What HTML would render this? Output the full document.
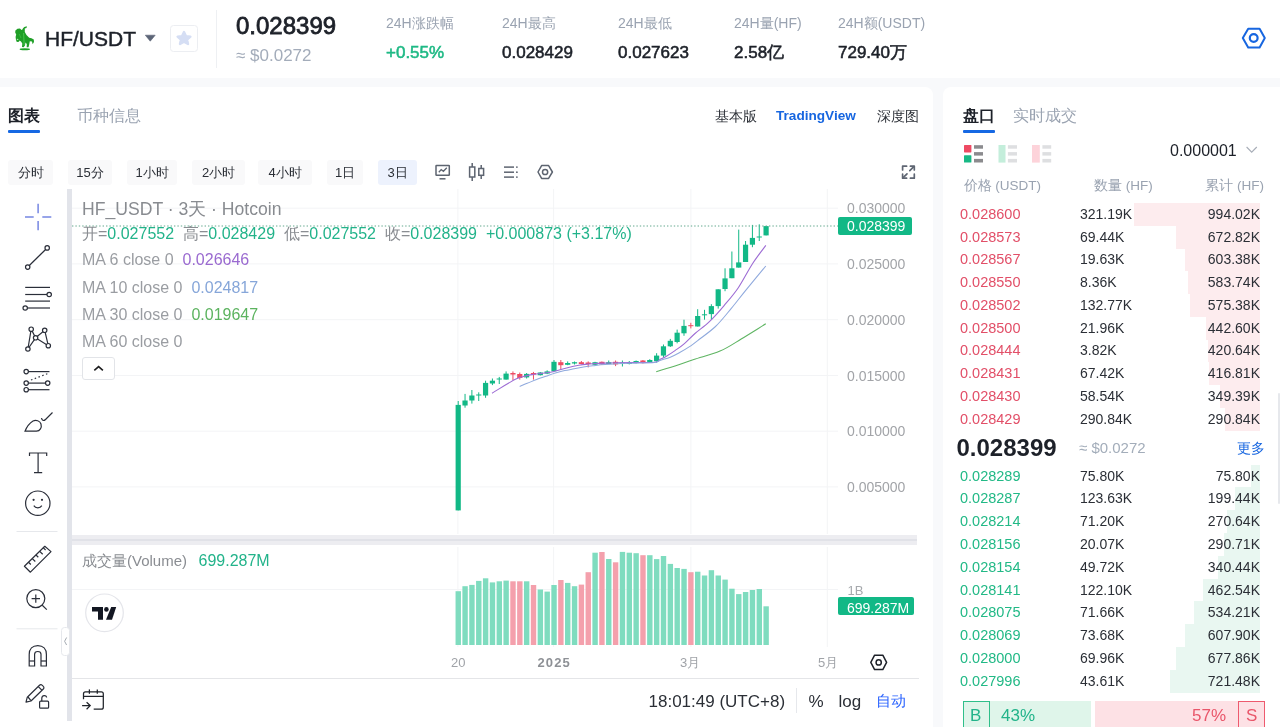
<!DOCTYPE html>
<html><head><meta charset="utf-8">
<style>
*{box-sizing:border-box;margin:0;padding:0}
html,body{width:1280px;height:727px;overflow:hidden;background:#f8f9fb;font-family:"Liberation Sans",sans-serif;color:#1d2129}
.a{position:absolute;white-space:nowrap;line-height:1}
#hdr{position:absolute;left:0;top:0;width:1280px;height:78px;background:#fff}
#lp{position:absolute;left:0;top:87px;width:933px;height:640px;background:#fff;border-radius:0 8px 0 0}
#rp{position:absolute;left:943px;top:87px;width:337px;height:640px;background:#fff;border-radius:8px 0 0 0}
.lbl{font-size:14px;color:#9aa3b1}
.val{font-size:17px;color:#1d2129;-webkit-text-stroke:0.55px currentColor}
.tb{position:absolute;top:160px;height:25px;background:#f9f9fa;border-radius:3px;font-size:13px;color:#2b2f36;line-height:25px;text-align:center}
.obr{position:absolute;left:943px;width:337px;height:23px;font-size:14px;line-height:23px}
.obr span{position:absolute;white-space:nowrap}
.op{left:17px;font-size:14.5px}
.op.r{color:#e24f68}
.op.g{color:#22b986}
.oq{left:137px;color:#2b2f36;font-size:14px}
.ot{right:20px;color:#2b2f36;font-size:14px}
.dbar{position:absolute}
svg{position:absolute;left:0;top:0}
#root{position:absolute;left:0;top:0;width:1280px;height:727px;overflow:hidden;will-change:transform}
</style></head><body><div id="root">
<div id="hdr"></div>
<div id="lp"></div>
<div id="rp"></div>

<!-- header -->
<svg width="1280" height="78" style="left:0;top:0">
  <g fill="#1f9f27">
    <polygon points="17.5,28.8 20,28.6 21.5,30 22.4,29.5 23,28.2 24.3,27 26.9,26.3 26.5,27.9 24.8,28.6 24.8,32 26.5,35 29.2,37.8 31.5,38.2 33.8,39.5 34,42 32.6,44.2 32,41.5 29.8,41.3 29.2,44.5 28.5,47.3 26.7,47.3 26.8,44 25.5,42.5 25,45.5 23.6,47.3 22,47 22.3,43.5 21,41.5 19.5,40.5 19,41.8 16.8,42 16,40 15.6,37 16.2,34.5 15.2,32.5 15.4,30.5"/>
    <ellipse cx="24.8" cy="49.2" rx="5.2" ry="1.05"/>
  </g>
  <path d="M23.6,33 L24.2,45.5" stroke="#56d35a" stroke-width="0.9" fill="none" opacity="0.8"/>
  <path d="M19.2,34 L21,38" stroke="#48c94e" stroke-width="0.8" fill="none" opacity="0.7"/>
  <ellipse cx="17.6" cy="39.3" rx="0.9" ry="0.6" fill="#b8f0b8"/>
  <path d="M145.3,35.2 L155.2,35.2 L150.25,41.2 Z" fill="#5c6577" stroke="#5c6577" stroke-width="0.6" stroke-linejoin="round"/>
  <rect x="170.5" y="25.5" width="27" height="26" rx="3" fill="#fff" stroke="#eceef2"/>
  <path d="M184,32 L186,36.2 L190.4,36.7 L187.1,39.7 L188,44 L184,41.8 L180,44 L180.9,39.7 L177.6,36.7 L182,36.2 Z" fill="#d5def4" stroke="#d5def4" stroke-width="2.4" stroke-linejoin="round"/>
  <line x1="216.5" y1="10" x2="216.5" y2="68" stroke="#eef0f3"/>
  <g fill="none" stroke="#1766e0" stroke-width="2">
    <path d="M1242.8,38 L1248.2,28.8 L1259.6,28.8 L1264.8,38 L1259.6,47.4 L1248.2,47.4 Z" stroke-linejoin="round"/>
    <circle cx="1253.7" cy="38" r="3.9" stroke-width="2.2"/>
  </g>
</svg>
<div class="a" style="left:45px;top:27.6px;font-size:21px;color:#1d2129;-webkit-text-stroke:0.45px #1d2129">HF/USDT</div>
<div class="a" style="left:236px;top:13.5px;font-size:24px;color:#1d2129;-webkit-text-stroke:0.8px #1d2129">0.028399</div>
<div class="a" style="left:236px;top:46.5px;font-size:17px;color:#a3acba">≈ $0.0272</div>
<div class="a lbl" style="left:386px;top:16px">24H涨跌幅</div>
<div class="a val" style="left:386px;top:44px;color:#1fb985">+0.55%</div>
<div class="a lbl" style="left:502px;top:16px">24H最高</div>
<div class="a val" style="left:502px;top:44px">0.028429</div>
<div class="a lbl" style="left:618px;top:16px">24H最低</div>
<div class="a val" style="left:618px;top:44px">0.027623</div>
<div class="a lbl" style="left:734px;top:16px">24H量(HF)</div>
<div class="a val" style="left:734px;top:44px">2.58亿</div>
<div class="a lbl" style="left:838px;top:16px">24H额(USDT)</div>
<div class="a val" style="left:838px;top:44px">729.40万</div>

<!-- left panel tabs -->
<div class="a" style="left:8px;top:107.5px;font-size:16px;color:#1d2129;font-weight:bold">图表</div>
<div style="position:absolute;left:8px;top:130px;width:32px;height:3px;background:#1668e3;border-radius:1px"></div>
<div class="a" style="left:77px;top:107.5px;font-size:16px;color:#9aa3b1">币种信息</div>
<div class="a" style="left:715px;top:108.5px;font-size:14px;color:#2b2f36">基本版</div>
<div class="a" style="left:776px;top:109px;font-size:13.6px;font-weight:bold;color:#1766e0">TradingView</div>
<div class="a" style="left:877px;top:108.5px;font-size:14px;color:#2b2f36">深度图</div>

<!-- toolbar -->
<div class="tb" style="left:8px;width:45px">分时</div>
<div class="tb" style="left:68px;width:44px">15分</div>
<div class="tb" style="left:127px;width:50px">1小时</div>
<div class="tb" style="left:192px;width:53px">2小时</div>
<div class="tb" style="left:258px;width:54px">4小时</div>
<div class="tb" style="left:327px;width:36px">1日</div>
<div class="tb" style="left:378px;width:39px;background:#edf2fd">3日</div>

<svg width="1280" height="200" style="left:0;top:0">
 <g fill="none" stroke="#5d6470" stroke-width="1.5">
  <rect x="436" y="165.6" width="13.3" height="9.6" rx="0.5"/>
  <polyline points="438.8,172.3 441.2,169.6 443.4,171.3 446.8,167.8" stroke-width="1.3"/>
  <line x1="439.5" y1="178.8" x2="445.5" y2="178.8"/>
  <rect x="469.6" y="167" width="5.2" height="10"/>
  <line x1="472.2" y1="163" x2="472.2" y2="167"/><line x1="472.2" y1="177" x2="472.2" y2="181"/>
  <rect x="478.8" y="168.5" width="4.8" height="6.8"/>
  <line x1="481.2" y1="165" x2="481.2" y2="168.5"/><line x1="481.2" y1="175.3" x2="481.2" y2="179"/>
  <line x1="504" y1="167.1" x2="514" y2="167.1"/><line x1="504" y1="172.2" x2="514" y2="172.2"/><line x1="504" y1="177.1" x2="514" y2="177.1"/>
  <path d="M538,172 L541.6,165.6 L548.6,165.6 L552.4,172 L548.6,178.4 L541.6,178.4 Z" stroke-linejoin="round"/>
  <circle cx="545.1" cy="172" r="2.6"/>
  <g stroke-width="1.7" stroke="#5f6673" stroke-linecap="round" stroke-linejoin="round">
   <polyline points="902.6,170 902.6,166.2 906.6,166.2"/>
   <polyline points="910.4,166.2 914.3,166.2 914.3,170"/>
   <line x1="909.8" y1="170.6" x2="913.8" y2="166.7"/>
   <polyline points="902.6,174.2 902.6,178.2 906.6,178.2"/>
   <line x1="903.1" y1="177.7" x2="907" y2="173.8"/>
   <polyline points="914.3,174.2 914.3,178.2 910.4,178.2"/>
  </g>
 </g>
 <g fill="#5d6470"><circle cx="516.9" cy="167.1" r="0.9"/><circle cx="516.9" cy="172.2" r="0.9"/><circle cx="516.9" cy="177.1" r="0.9"/></g>
</svg>


<!-- chart -->
<svg width="1280" height="727">
<line x1="72" y1="208.2" x2="838" y2="208.2" stroke="#f3f4f6" stroke-width="1"/>
<line x1="72" y1="263.9" x2="838" y2="263.9" stroke="#f3f4f6" stroke-width="1"/>
<line x1="72" y1="319.7" x2="838" y2="319.7" stroke="#f3f4f6" stroke-width="1"/>
<line x1="72" y1="375.5" x2="838" y2="375.5" stroke="#f3f4f6" stroke-width="1"/>
<line x1="72" y1="431.2" x2="838" y2="431.2" stroke="#f3f4f6" stroke-width="1"/>
<line x1="72" y1="486.9" x2="838" y2="486.9" stroke="#f3f4f6" stroke-width="1"/>
<line x1="457.9" y1="189" x2="457.9" y2="534" stroke="#f3f4f6" stroke-width="1"/>
<line x1="457.9" y1="547" x2="457.9" y2="647" stroke="#f3f4f6" stroke-width="1"/>
<line x1="553.6" y1="189" x2="553.6" y2="534" stroke="#f3f4f6" stroke-width="1"/>
<line x1="553.6" y1="547" x2="553.6" y2="647" stroke="#f3f4f6" stroke-width="1"/>
<line x1="690.9" y1="189" x2="690.9" y2="534" stroke="#f3f4f6" stroke-width="1"/>
<line x1="690.9" y1="547" x2="690.9" y2="647" stroke="#f3f4f6" stroke-width="1"/>
<line x1="827.3" y1="189" x2="827.3" y2="534" stroke="#f3f4f6" stroke-width="1"/>
<line x1="827.3" y1="547" x2="827.3" y2="647" stroke="#f3f4f6" stroke-width="1"/>
<line x1="72" y1="589.5" x2="838" y2="589.5" stroke="#f3f4f6" stroke-width="1"/>
<rect x="455.55" y="591.2" width="5.4" height="53.8" fill="#7fdcbf"/>
<rect x="462.39" y="586.2" width="5.4" height="58.8" fill="#7fdcbf"/>
<rect x="469.23" y="584.9" width="5.4" height="60.1" fill="#7fdcbf"/>
<rect x="476.08" y="580.9" width="5.4" height="64.1" fill="#7fdcbf"/>
<rect x="482.92" y="578.3" width="5.4" height="66.7" fill="#7fdcbf"/>
<rect x="489.76" y="582.4" width="5.4" height="62.6" fill="#7fdcbf"/>
<rect x="496.60" y="581.3" width="5.4" height="63.7" fill="#7fdcbf"/>
<rect x="503.44" y="580.6" width="5.4" height="64.4" fill="#7fdcbf"/>
<rect x="510.29" y="581.3" width="5.4" height="63.7" fill="#f4a0ac"/>
<rect x="517.13" y="581.3" width="5.4" height="63.7" fill="#f4a0ac"/>
<rect x="523.97" y="581.3" width="5.4" height="63.7" fill="#7fdcbf"/>
<rect x="530.81" y="585.0" width="5.4" height="60.0" fill="#f4a0ac"/>
<rect x="537.65" y="589.5" width="5.4" height="55.5" fill="#7fdcbf"/>
<rect x="544.50" y="591.6" width="5.4" height="53.4" fill="#7fdcbf"/>
<rect x="551.34" y="585.0" width="5.4" height="60.0" fill="#7fdcbf"/>
<rect x="558.18" y="580.0" width="5.4" height="65.0" fill="#f4a0ac"/>
<rect x="565.02" y="582.9" width="5.4" height="62.1" fill="#7fdcbf"/>
<rect x="571.86" y="586.2" width="5.4" height="58.8" fill="#7fdcbf"/>
<rect x="578.71" y="584.6" width="5.4" height="60.4" fill="#f4a0ac"/>
<rect x="585.55" y="572.2" width="5.4" height="72.8" fill="#f4a0ac"/>
<rect x="592.39" y="552.7" width="5.4" height="92.3" fill="#7fdcbf"/>
<rect x="599.23" y="552.0" width="5.4" height="93.0" fill="#f4a0ac"/>
<rect x="606.07" y="559.0" width="5.4" height="86.0" fill="#7fdcbf"/>
<rect x="612.92" y="562.3" width="5.4" height="82.7" fill="#f4a0ac"/>
<rect x="619.76" y="551.9" width="5.4" height="93.1" fill="#7fdcbf"/>
<rect x="626.60" y="552.7" width="5.4" height="92.3" fill="#7fdcbf"/>
<rect x="633.44" y="553.2" width="5.4" height="91.8" fill="#7fdcbf"/>
<rect x="640.28" y="555.2" width="5.4" height="89.8" fill="#f4a0ac"/>
<rect x="647.13" y="555.2" width="5.4" height="89.8" fill="#7fdcbf"/>
<rect x="653.97" y="559.1" width="5.4" height="85.9" fill="#7fdcbf"/>
<rect x="660.81" y="556.0" width="5.4" height="89.0" fill="#7fdcbf"/>
<rect x="667.65" y="563.9" width="5.4" height="81.1" fill="#7fdcbf"/>
<rect x="674.49" y="568.0" width="5.4" height="77.0" fill="#7fdcbf"/>
<rect x="681.34" y="568.9" width="5.4" height="76.1" fill="#7fdcbf"/>
<rect x="688.18" y="572.2" width="5.4" height="72.8" fill="#f4a0ac"/>
<rect x="695.02" y="571.7" width="5.4" height="73.3" fill="#7fdcbf"/>
<rect x="701.86" y="575.5" width="5.4" height="69.5" fill="#7fdcbf"/>
<rect x="708.70" y="570.2" width="5.4" height="74.8" fill="#7fdcbf"/>
<rect x="715.55" y="575.5" width="5.4" height="69.5" fill="#7fdcbf"/>
<rect x="722.39" y="579.6" width="5.4" height="65.4" fill="#7fdcbf"/>
<rect x="729.23" y="588.7" width="5.4" height="56.3" fill="#7fdcbf"/>
<rect x="736.07" y="594.1" width="5.4" height="50.9" fill="#7fdcbf"/>
<rect x="742.91" y="592.0" width="5.4" height="53.0" fill="#7fdcbf"/>
<rect x="749.76" y="590.0" width="5.4" height="55.0" fill="#7fdcbf"/>
<rect x="756.60" y="589.0" width="5.4" height="56.0" fill="#7fdcbf"/>
<rect x="763.44" y="606.3" width="5.4" height="38.7" fill="#7fdcbf"/>
<rect x="457.70" y="401.0" width="1" height="109.4" fill="#12b886"/>
<rect x="455.60" y="404.9" width="5.2" height="105.5" fill="#12b886"/>
<rect x="464.54" y="393.9" width="1" height="13.8" fill="#12b886"/>
<rect x="462.44" y="400.5" width="5.2" height="5.0" fill="#12b886"/>
<rect x="471.38" y="390.0" width="1" height="13.6" fill="#12b886"/>
<rect x="469.28" y="395.5" width="5.2" height="5.0" fill="#12b886"/>
<rect x="478.23" y="392.3" width="1" height="8.7" fill="#12b886"/>
<rect x="476.13" y="394.5" width="5.2" height="1.0" fill="#12b886"/>
<rect x="485.07" y="380.7" width="1" height="17.1" fill="#12b886"/>
<rect x="482.97" y="382.9" width="5.2" height="12.6" fill="#12b886"/>
<rect x="491.91" y="378.5" width="1" height="6.6" fill="#12b886"/>
<rect x="489.81" y="380.7" width="5.2" height="2.8" fill="#12b886"/>
<rect x="498.75" y="376.9" width="1" height="7.1" fill="#12b886"/>
<rect x="496.65" y="378.5" width="5.2" height="1.0" fill="#12b886"/>
<rect x="505.59" y="371.4" width="1" height="8.2" fill="#12b886"/>
<rect x="503.49" y="373.6" width="5.2" height="6.0" fill="#12b886"/>
<rect x="512.44" y="371.4" width="1" height="8.6" fill="#ee4b63"/>
<rect x="510.34" y="373.0" width="5.2" height="1.5" fill="#ee4b63"/>
<rect x="519.28" y="372.5" width="1" height="7.1" fill="#ee4b63"/>
<rect x="517.18" y="374.0" width="5.2" height="4.0" fill="#ee4b63"/>
<rect x="526.12" y="373.0" width="1" height="5.5" fill="#12b886"/>
<rect x="524.02" y="373.9" width="5.2" height="3.5" fill="#12b886"/>
<rect x="532.96" y="371.9" width="1" height="7.7" fill="#ee4b63"/>
<rect x="530.86" y="373.0" width="5.2" height="1.6" fill="#ee4b63"/>
<rect x="539.80" y="372.0" width="1" height="3.5" fill="#12b886"/>
<rect x="537.70" y="372.5" width="5.2" height="2.7" fill="#12b886"/>
<rect x="546.65" y="370.3" width="1" height="3.8" fill="#12b886"/>
<rect x="544.55" y="371.4" width="5.2" height="2.2" fill="#12b886"/>
<rect x="553.49" y="360.0" width="1" height="11.3" fill="#12b886"/>
<rect x="551.39" y="361.8" width="5.2" height="9.5" fill="#12b886"/>
<rect x="560.33" y="360.0" width="1" height="9.5" fill="#ee4b63"/>
<rect x="558.23" y="362.2" width="5.2" height="3.0" fill="#ee4b63"/>
<rect x="567.17" y="361.4" width="1" height="3.8" fill="#12b886"/>
<rect x="565.07" y="363.0" width="5.2" height="1.8" fill="#12b886"/>
<rect x="574.01" y="361.5" width="1" height="3.0" fill="#12b886"/>
<rect x="571.91" y="362.2" width="5.2" height="1.3" fill="#12b886"/>
<rect x="580.86" y="361.0" width="1" height="3.4" fill="#ee4b63"/>
<rect x="578.76" y="362.2" width="5.2" height="1.8" fill="#ee4b63"/>
<rect x="587.70" y="361.4" width="1" height="6.0" fill="#ee4b63"/>
<rect x="585.60" y="362.5" width="5.2" height="1.5" fill="#ee4b63"/>
<rect x="594.54" y="361.8" width="1" height="3.7" fill="#12b886"/>
<rect x="592.44" y="362.2" width="5.2" height="2.6" fill="#12b886"/>
<rect x="601.38" y="361.5" width="1" height="3.3" fill="#ee4b63"/>
<rect x="599.28" y="361.8" width="5.2" height="2.6" fill="#ee4b63"/>
<rect x="608.22" y="360.5" width="1" height="3.5" fill="#12b886"/>
<rect x="606.12" y="362.2" width="5.2" height="1.8" fill="#12b886"/>
<rect x="615.07" y="360.5" width="1" height="5.6" fill="#ee4b63"/>
<rect x="612.97" y="361.8" width="5.2" height="2.6" fill="#ee4b63"/>
<rect x="621.91" y="360.5" width="1" height="6.0" fill="#12b886"/>
<rect x="619.81" y="362.6" width="5.2" height="1.0" fill="#12b886"/>
<rect x="628.75" y="361.0" width="1" height="3.4" fill="#12b886"/>
<rect x="626.65" y="362.2" width="5.2" height="1.8" fill="#12b886"/>
<rect x="635.59" y="360.5" width="1" height="3.0" fill="#12b886"/>
<rect x="633.49" y="361.0" width="5.2" height="2.1" fill="#12b886"/>
<rect x="642.43" y="360.0" width="1" height="3.5" fill="#ee4b63"/>
<rect x="640.33" y="360.5" width="5.2" height="2.6" fill="#ee4b63"/>
<rect x="649.28" y="359.2" width="1" height="3.5" fill="#12b886"/>
<rect x="647.18" y="360.0" width="5.2" height="2.2" fill="#12b886"/>
<rect x="656.12" y="353.2" width="1" height="9.5" fill="#12b886"/>
<rect x="654.02" y="355.6" width="5.2" height="5.6" fill="#12b886"/>
<rect x="662.96" y="344.5" width="1" height="13.0" fill="#12b886"/>
<rect x="660.86" y="346.3" width="5.2" height="9.3" fill="#12b886"/>
<rect x="669.80" y="338.9" width="1" height="8.1" fill="#12b886"/>
<rect x="667.70" y="340.8" width="5.2" height="5.5" fill="#12b886"/>
<rect x="676.64" y="329.6" width="1" height="13.7" fill="#12b886"/>
<rect x="674.54" y="332.7" width="5.2" height="9.3" fill="#12b886"/>
<rect x="683.49" y="319.7" width="1" height="16.1" fill="#12b886"/>
<rect x="681.39" y="325.9" width="5.2" height="7.4" fill="#12b886"/>
<rect x="690.33" y="322.8" width="1" height="5.6" fill="#ee4b63"/>
<rect x="688.23" y="325.2" width="5.2" height="1.0" fill="#ee4b63"/>
<rect x="697.17" y="309.2" width="1" height="17.3" fill="#12b886"/>
<rect x="695.07" y="316.0" width="5.2" height="10.5" fill="#12b886"/>
<rect x="704.01" y="309.8" width="1" height="9.9" fill="#12b886"/>
<rect x="701.91" y="314.3" width="5.2" height="1.0" fill="#12b886"/>
<rect x="710.85" y="304.2" width="1" height="15.5" fill="#12b886"/>
<rect x="708.75" y="306.1" width="5.2" height="8.0" fill="#12b886"/>
<rect x="717.70" y="289.3" width="1" height="19.3" fill="#12b886"/>
<rect x="715.60" y="289.3" width="5.2" height="16.8" fill="#12b886"/>
<rect x="724.54" y="268.3" width="1" height="22.9" fill="#12b886"/>
<rect x="722.44" y="278.4" width="5.2" height="10.6" fill="#12b886"/>
<rect x="731.38" y="251.5" width="1" height="26.7" fill="#12b886"/>
<rect x="729.28" y="268.3" width="5.2" height="9.9" fill="#12b886"/>
<rect x="738.22" y="229.6" width="1" height="38.0" fill="#12b886"/>
<rect x="736.12" y="262.4" width="5.2" height="5.2" fill="#12b886"/>
<rect x="745.06" y="241.0" width="1" height="21.0" fill="#12b886"/>
<rect x="742.96" y="244.7" width="5.2" height="17.3" fill="#12b886"/>
<rect x="751.91" y="224.9" width="1" height="22.3" fill="#12b886"/>
<rect x="749.81" y="237.9" width="5.2" height="6.8" fill="#12b886"/>
<rect x="758.75" y="224.3" width="1" height="16.7" fill="#12b886"/>
<rect x="756.65" y="236.5" width="5.2" height="1.0" fill="#12b886"/>
<rect x="765.59" y="226.1" width="1" height="9.3" fill="#12b886"/>
<rect x="763.49" y="226.1" width="5.2" height="9.3" fill="#12b886"/>
<path d="M492.0,393.3 C493.2,392.6 496.4,390.6 499.1,388.9 C501.8,387.2 505.6,384.9 508.4,383.3 C511.2,381.7 513.5,380.2 515.9,379.1 C518.2,378.0 519.8,377.4 522.5,376.7 C525.2,375.9 528.8,375.2 531.9,374.6 C535.0,374.1 538.1,373.8 541.2,373.4 C544.3,373.0 547.5,372.9 550.6,372.3 C553.7,371.7 556.9,370.5 560.0,369.7 C563.1,368.9 566.3,368.1 569.4,367.3 C572.5,366.6 575.7,365.7 578.8,365.2 C581.9,364.7 583.7,364.5 588.1,364.1 C592.5,363.8 598.0,363.4 605.0,363.1 C612.0,362.8 621.8,362.6 630.0,362.5 C638.2,362.4 649.4,362.7 654.4,362.2 C659.4,361.7 658.1,360.4 660.0,359.5 C661.9,358.6 663.1,358.2 665.6,356.7 C668.1,355.2 671.9,352.8 675.0,350.6 C678.1,348.4 681.1,346.5 684.4,343.6 C687.7,340.8 690.8,337.2 695.0,333.5 C699.2,329.8 704.6,326.2 709.4,321.6 C714.2,317.0 719.1,311.5 723.9,305.8 C728.7,300.1 733.5,294.8 738.3,287.7 C743.1,280.6 748.2,270.2 752.8,263.2 C757.4,256.1 763.6,248.4 765.8,245.4" fill="none" stroke="#9d6cd4" stroke-width="1.1"/>
<path d="M519.7,386.4 C521.0,385.9 524.4,384.4 527.2,383.3 C530.0,382.2 533.5,380.7 536.6,379.5 C539.7,378.3 542.8,377.4 545.9,376.3 C549.0,375.2 552.2,373.9 555.3,373.0 C558.4,372.1 561.6,371.3 564.7,370.6 C567.8,369.9 571.0,369.4 574.1,368.8 C577.2,368.2 580.3,367.6 583.4,367.1 C586.5,366.6 589.2,366.2 592.8,365.8 C596.4,365.4 598.8,364.9 605.0,364.5 C611.2,364.1 621.8,363.6 630.0,363.3 C638.2,363.0 649.4,363.0 654.4,362.5 C659.4,362.0 657.4,361.4 660.0,360.5 C662.6,359.6 667.0,358.5 670.3,357.2 C673.6,355.9 676.6,354.2 679.7,352.5 C682.8,350.8 686.0,349.0 689.1,346.9 C692.2,344.8 694.0,343.4 698.4,340.0 C702.8,336.6 710.0,331.7 715.5,326.5 C721.0,321.3 726.1,314.6 731.1,308.6 C736.1,302.6 739.7,297.7 745.5,290.6 C751.3,283.5 762.4,270.1 765.8,266.0" fill="none" stroke="#8fa9dd" stroke-width="1.05"/>
<path d="M656.2,371.7 C659.4,370.8 668.8,368.1 675.0,366.1 C681.2,364.1 686.2,362.0 693.8,359.5 C701.2,357.0 712.1,354.5 720.0,351.1 C727.9,347.7 733.6,343.6 741.2,339.0 C748.8,334.4 761.7,326.3 765.8,323.8" fill="none" stroke="#5fb563" stroke-width="1.1"/>
<line x1="72" y1="226" x2="838" y2="226" stroke="#62a88d" stroke-width="1" stroke-dasharray="1.4,2"/>
</svg>

<!-- left drawing toolbar -->
<div style="position:absolute;left:67px;top:189px;width:5px;height:532px;background:#e2e4ea"></div>
<svg width="80" height="727" style="left:0;top:0">
 <g stroke="#6b7de0" stroke-width="1.4">
  <line x1="25" y1="217" x2="33.7" y2="217"/><line x1="42.3" y1="217" x2="51.3" y2="217"/>
  <line x1="38.1" y1="203.8" x2="38.1" y2="213.2"/><line x1="38.1" y1="220.9" x2="38.1" y2="230.2"/>
 </g>
 <g fill="none" stroke="#2a2e39" stroke-width="1.2">
  <circle cx="27.7" cy="267.1" r="2.2"/><circle cx="47.2" cy="247.9" r="2.2"/>
  <line x1="29.3" y1="265.5" x2="45.6" y2="249.5"/>
  <line x1="25.2" y1="287.4" x2="50" y2="287.4"/>
  <line x1="25.2" y1="294.5" x2="47" y2="294.5"/><circle cx="49.2" cy="294.5" r="2.2"/>
  <line x1="25.2" y1="301.1" x2="50" y2="301.1"/>
  <circle cx="25.2" cy="308" r="2.2"/><line x1="27.4" y1="308" x2="50" y2="308"/>
  <polyline points="27.9,349 31.2,329.2 35.6,337.8 44.7,330.3 48.3,345.7 35.6,337.8 27.9,349"/>
  <circle cx="27.9" cy="349" r="2.2" fill="#fff"/><circle cx="31.2" cy="329.2" r="2.2" fill="#fff"/><circle cx="35.6" cy="337.8" r="2.2" fill="#fff"/><circle cx="44.7" cy="330.3" r="2.2" fill="#fff"/><circle cx="48.3" cy="345.7" r="2.2" fill="#fff"/>
  <circle cx="26.2" cy="371.6" r="2.2"/><line x1="28.4" y1="371.6" x2="49.5" y2="371.6"/>
  <circle cx="26.2" cy="383.1" r="2.2"/><line x1="28.4" y1="383.1" x2="45.5" y2="383.1"/><circle cx="47.7" cy="383.1" r="2.2"/>
  <circle cx="26.2" cy="389.7" r="2.2"/><line x1="28.4" y1="389.7" x2="49.5" y2="389.7"/>
  <line x1="31" y1="380" x2="48" y2="373.5" stroke-dasharray="1.5,2.5"/>
  <path d="M25,431.2 L36.5,431.2 C40,431 42,427.5 41,424 C40,421 36,419.5 33,421 C29,423.5 26.5,427.5 25,431.2 Z"/>
  <path d="M41.5,418 C42,421 44,421 45.5,419.5 L52.5,412.5"/>
  <path d="M29.5,456 L29.5,453 L46.7,453 L46.7,456 M38.1,453 L38.1,472.7 M34,472.7 L42.2,472.7"/>
  <circle cx="37.8" cy="503.2" r="12.2"/>
  <path d="M33.8,505.6 C35.5,508.5 40.1,508.5 41.8,505.6"/>
 </g>
 <g fill="#2a2e39"><circle cx="33.6" cy="499.8" r="1.1"/><circle cx="42" cy="499.8" r="1.1"/></g>
 <line x1="16.5" y1="531.5" x2="57.5" y2="531.5" stroke="#e6e8ec"/>
 <g fill="none" stroke="#2a2e39" stroke-width="1.2">
  <path d="M24.4,566.3 L44.8,546.3 L51,551.6 L30.4,572.2 Z" stroke-linejoin="round"/>
  <path d="M28.5,562.3 L30.8,564.5 M32.3,558.6 L35.3,561.5 M36,555 L38.3,557.2 M39.7,551.4 L42.7,554.3 M43.4,547.8 L45.6,550"/>
  <circle cx="35.8" cy="598.6" r="9"/>
  <line x1="42.3" y1="605.2" x2="46.8" y2="609.6"/>
  <path d="M35.8,594.4 L35.8,602.8 M31.6,598.6 L40,598.6"/>
 </g>
 <line x1="16.5" y1="628.8" x2="57.5" y2="628.8" stroke="#e6e8ec"/>
 <g fill="none" stroke="#2a2e39" stroke-width="1.2">
  <path d="M29.2,666 L29.2,654.5 C29.2,649 32.5,645.6 37.8,645.6 C43.1,645.6 46.4,649 46.4,654.5 L46.4,666 L41,666 L41,654.3 C41,652.3 39.8,651.5 37.8,651.5 C35.8,651.5 34.6,652.3 34.6,654.3 L34.6,666 Z"/>
  <line x1="29.2" y1="661" x2="34.6" y2="661"/><line x1="41" y1="661" x2="46.4" y2="661"/>
  <path d="M26,702.2 L27.3,697.2 L39.5,685.2 C40.3,684.4 41.4,684.4 42.1,685.2 L43.3,686.4 C44.1,687.1 44.1,688.3 43.3,689 L31,701 Z" stroke-linejoin="round"/>
  <line x1="28" y1="697" x2="31" y2="700.6"/><line x1="38.3" y1="686.6" x2="41.8" y2="690.2"/>
  <rect x="39.6" y="701.2" width="9" height="7" rx="1"/>
  <path d="M41.8,701.2 L41.8,698.3 C41.8,694.8 46.6,694.8 46.6,697.6"/>
 </g>
 <!-- collapse tab -->
 <rect x="61.5" y="627.5" width="8" height="28" rx="3" fill="#fff" stroke="#e6e8ec"/>
 <path d="M66.6,637.5 L64.6,641.3 L66.6,645" fill="none" stroke="#9aa0a8" stroke-width="0.9"/>
</svg>

<!-- chart legend -->
<div class="a" style="left:82px;top:200.5px;font-size:17.6px;color:#888b90">HF_USDT · 3天 · Hotcoin</div>
<div class="a" style="left:82px;top:225.8px;font-size:16px;color:#8a8d92">开=<span style="color:#22b38a">0.027552</span>&nbsp; 高=<span style="color:#22b38a">0.028429</span>&nbsp; 低=<span style="color:#22b38a">0.027552</span>&nbsp; 收=<span style="color:#22b38a">0.028399 &nbsp;+0.000873 (+3.17%)</span></div>
<div class="a" style="left:82px;top:252.2px;font-size:16px;color:#9a9da2">MA 6 close 0&nbsp; <span style="color:#9a6ad0">0.026646</span></div>
<div class="a" style="left:82px;top:279.5px;font-size:16px;color:#9a9da2">MA 10 close 0&nbsp; <span style="color:#86a6d9">0.024817</span></div>
<div class="a" style="left:82px;top:306.8px;font-size:16px;color:#9a9da2">MA 30 close 0&nbsp; <span style="color:#5cb35f">0.019647</span></div>
<div class="a" style="left:82px;top:334px;font-size:16px;color:#9a9da2">MA 60 close 0</div>
<div style="position:absolute;left:82px;top:357px;width:33px;height:23px;border:1px solid #e2e4e8;border-radius:3px;background:#fff"></div>
<svg width="20" height="20" style="left:89px;top:359px"><path d="M5.3,11.3 L9.6,7.6 L13.9,11.3" fill="none" stroke="#1d1d1f" stroke-width="1.6"/></svg>

<!-- price axis -->
<div class="a" style="left:847px;top:201.2px;font-size:14px;color:#a2a4a8">0.030000</div>
<div style="position:absolute;left:838px;top:217px;width:74px;height:18px;background:#12b886;border-radius:2px"></div>
<div class="a" style="left:847px;top:219px;font-size:14px;color:#fff">0.028399</div>
<div class="a" style="left:847px;top:257px;font-size:14px;color:#a2a4a8">0.025000</div>
<div class="a" style="left:847px;top:312.8px;font-size:14px;color:#a2a4a8">0.020000</div>
<div class="a" style="left:847px;top:368.6px;font-size:14px;color:#a2a4a8">0.015000</div>
<div class="a" style="left:847px;top:424.4px;font-size:14px;color:#a2a4a8">0.010000</div>
<div class="a" style="left:847px;top:480.2px;font-size:14px;color:#a2a4a8">0.005000</div>

<!-- separator -->
<div style="position:absolute;left:72px;top:534.5px;width:845px;height:10px;background:#ededf1"></div>
<div style="position:absolute;left:72px;top:539px;width:845px;height:1.5px;background:#e1e2e8"></div>

<!-- volume pane -->
<div class="a" style="left:82px;top:552.5px;font-size:15px;color:#8a8d92">成交量(Volume)</div>
<div class="a" style="left:198.5px;top:552.5px;font-size:16px;color:#22b38a">699.287M</div>
<div class="a" style="left:847.5px;top:583.5px;font-size:13px;color:#a6a9ad">1B</div>
<div style="position:absolute;left:838px;top:597px;width:76px;height:18px;background:#12b886;border-radius:2px"></div>
<div class="a" style="left:847px;top:600.5px;font-size:14px;color:#fff">699.287M</div>
<svg width="60" height="60" style="left:80px;top:588px">
 <circle cx="24.5" cy="24.8" r="18.8" fill="#fff" stroke="#e4e5ea" stroke-width="1.2"/>
 <path d="M12,19 L23,19 L23,31.8 L18,31.8 L18,23.6 L12,23.6 Z" fill="#131722"/>
 <circle cx="26.4" cy="21.4" r="2.3" fill="#131722"/>
 <path d="M31.2,19 L36.2,19 L32,31.8 L26,31.8 Z" fill="#131722"/>
</svg>

<!-- time axis -->
<div class="a" style="left:451px;top:656px;font-size:13px;color:#a0a3a8">20</div>
<div class="a" style="left:537.5px;top:656px;font-size:13px;color:#8e9196;font-weight:bold;letter-spacing:1.1px">2025</div>
<div class="a" style="left:680px;top:656px;font-size:13px;color:#a0a3a8">3月</div>
<div class="a" style="left:818px;top:656px;font-size:13px;color:#a0a3a8">5月</div>
<svg width="30" height="30" style="left:863px;top:648px">
 <path d="M7.8,14.4 L11.6,7.2 L19.8,7.2 L23.6,14.4 L19.8,21.6 L11.6,21.6 Z" fill="none" stroke="#1d2129" stroke-width="1.5" stroke-linejoin="round"/>
 <circle cx="15.7" cy="14.4" r="2.6" fill="none" stroke="#1d2129" stroke-width="1.5"/>
</svg>
<div style="position:absolute;left:72px;top:678px;width:847px;height:1px;background:#e4e5e8"></div>

<!-- bottom bar -->
<svg width="40" height="40" style="left:75px;top:682px">
 <g fill="none" stroke="#1f2329" stroke-width="1.25">
  <path d="M8.5,17.2 L8.5,11.8 C8.5,10.6 9.4,9.8 10.5,9.8 L26.3,9.8 C27.4,9.8 28.3,10.6 28.3,11.8 L28.3,25.2 C28.3,26.4 27.4,27.2 26.3,27.2 L18.7,27.2"/>
  <line x1="8.5" y1="14.4" x2="28.3" y2="14.4"/>
  <line x1="14.4" y1="7.4" x2="14.4" y2="11.8"/><line x1="22.3" y1="7.4" x2="22.3" y2="11.8"/>
  <path d="M7.1,23.6 L15.2,23.6 M11.6,20.2 L15.2,23.6 L11.6,27.2"/>
 </g>
</svg>
<div class="a" style="left:648.5px;top:692.5px;font-size:17px;color:#2b2f36">18:01:49 (UTC+8)</div>
<div style="position:absolute;left:796px;top:688px;width:1px;height:25px;background:#e6e8ec"></div>
<div class="a" style="left:808.5px;top:692.5px;font-size:17px;color:#2b2f36">%</div>
<div class="a" style="left:838.5px;top:692.5px;font-size:17px;color:#2b2f36">log</div>
<div class="a" style="left:876px;top:692.5px;font-size:15px;color:#2962ff">自动</div>

<!-- right panel top -->
<div class="a" style="left:963px;top:107.5px;font-size:16px;font-weight:bold;color:#1d2129">盘口</div>
<div style="position:absolute;left:962.5px;top:130px;width:32px;height:3px;background:#1668e3;border-radius:1px"></div>
<div class="a" style="left:1013px;top:107.5px;font-size:16px;color:#9aa3b1">实时成交</div>
<svg width="120" height="30" style="left:955px;top:140px">
 <rect x="9" y="5" width="7.4" height="7.4" rx="0.6" fill="#ee4a63"/>
 <rect x="9" y="15.2" width="7.4" height="7.4" rx="0.6" fill="#17b985"/>
 <rect x="19" y="5.2" width="9" height="3.5" fill="#8b8b8e"/>
 <rect x="19" y="12.1" width="9" height="3.5" fill="#8b8b8e"/>
 <rect x="19" y="18.9" width="9" height="3.6" fill="#8b8b8e"/>
 <rect x="43.5" y="5" width="7" height="17.6" fill="#c4eedb"/>
 <rect x="52.9" y="5.2" width="9.1" height="3.5" fill="#dedfe1"/>
 <rect x="52.9" y="12.1" width="9.1" height="3.5" fill="#dedfe1"/>
 <rect x="52.9" y="18.9" width="9.1" height="3.6" fill="#dedfe1"/>
 <rect x="77" y="5" width="7.8" height="17.6" fill="#fdd3da"/>
 <rect x="87.4" y="5.2" width="8.8" height="3.5" fill="#dedfe1"/>
 <rect x="87.4" y="12.1" width="8.8" height="3.5" fill="#dedfe1"/>
 <rect x="87.4" y="18.9" width="8.8" height="3.6" fill="#dedfe1"/>
</svg>
<div class="a" style="left:1170px;top:142.5px;font-size:16px;color:#1d2129">0.000001</div>
<svg width="20" height="20" style="left:1242px;top:140px"><path d="M4.6,7 L9.7,12.2 L14.8,7" fill="none" stroke="#a7adb7" stroke-width="1.1"/></svg>
<div class="a" style="left:963.5px;top:179px;font-size:13.5px;color:#9aa3b1">价格 (USDT)</div>
<div class="a" style="left:1094px;top:179px;font-size:13.5px;color:#9aa3b1">数量 (HF)</div>
<div class="a" style="right:16px;top:179px;font-size:13.5px;color:#9aa3b1">累计 (HF)</div>

<!-- mid price -->
<div class="a" style="left:956.5px;top:436px;font-size:24px;font-weight:bold;color:#1d2129">0.028399</div>
<div class="a" style="left:1079px;top:440px;font-size:15px;color:#a3adba">≈ $0.0272</div>
<div class="a" style="left:1237px;top:441.5px;font-size:13.5px;color:#1766e0">更多</div>

<!-- B/S -->
<div style="position:absolute;left:962.5px;top:701px;width:128.5px;height:30px;background:#dff5ea"></div>
<div style="position:absolute;left:962.5px;top:701px;width:27.5px;height:30px;border:1px solid #2fbf8a"></div>
<div class="a" style="left:970px;top:707px;font-size:17px;color:#22b38a">B</div>
<div class="a" style="left:1001px;top:707px;font-size:17px;color:#22b38a">43%</div>
<div style="position:absolute;left:1094.5px;top:701px;width:170px;height:30px;background:#fde1e5"></div>
<div style="position:absolute;left:1237.5px;top:701px;width:27px;height:30px;border:1px solid #ee5a6e"></div>
<div class="a" style="left:1192px;top:707px;font-size:17px;color:#e9566a">57%</div>
<div class="a" style="left:1246px;top:707px;font-size:17px;color:#e9566a">S</div>
<div style="position:absolute;left:1277.5px;top:393px;width:2px;height:111px;background:#e6e8ec;border-radius:1px"></div>


<!-- order book -->
<div class="dbar" style="left:1134.0px;top:202.7px;width:126.3px;height:23.1px;background:#fdecee"></div>
<div class="obr" style="top:202.7px"><span class="op r">0.028600</span><span class="oq">321.19K</span><span class="ot">994.02K</span></div>
<div class="dbar" style="left:1176.3px;top:225.5px;width:84.0px;height:23.1px;background:#fdecee"></div>
<div class="obr" style="top:225.5px"><span class="op r">0.028573</span><span class="oq">69.44K</span><span class="ot">672.82K</span></div>
<div class="dbar" style="left:1185.3px;top:248.3px;width:75.0px;height:23.1px;background:#fdecee"></div>
<div class="obr" style="top:248.3px"><span class="op r">0.028567</span><span class="oq">19.63K</span><span class="ot">603.38K</span></div>
<div class="dbar" style="left:1188.2px;top:271.1px;width:72.1px;height:23.1px;background:#fdecee"></div>
<div class="obr" style="top:271.1px"><span class="op r">0.028550</span><span class="oq">8.36K</span><span class="ot">583.74K</span></div>
<div class="dbar" style="left:1189.7px;top:293.9px;width:70.6px;height:23.1px;background:#fdecee"></div>
<div class="obr" style="top:293.9px"><span class="op r">0.028502</span><span class="oq">132.77K</span><span class="ot">575.38K</span></div>
<div class="dbar" style="left:1206.0px;top:316.6px;width:54.3px;height:23.1px;background:#fdecee"></div>
<div class="obr" style="top:316.6px"><span class="op r">0.028500</span><span class="oq">21.96K</span><span class="ot">442.60K</span></div>
<div class="dbar" style="left:1208.3px;top:339.4px;width:52.0px;height:23.1px;background:#fdecee"></div>
<div class="obr" style="top:339.4px"><span class="op r">0.028444</span><span class="oq">3.82K</span><span class="ot">420.64K</span></div>
<div class="dbar" style="left:1209.0px;top:362.2px;width:51.3px;height:23.1px;background:#fdecee"></div>
<div class="obr" style="top:362.2px"><span class="op r">0.028431</span><span class="oq">67.42K</span><span class="ot">416.81K</span></div>
<div class="dbar" style="left:1219.5px;top:385.0px;width:40.8px;height:23.1px;background:#fdecee"></div>
<div class="obr" style="top:385.0px"><span class="op r">0.028430</span><span class="oq">58.54K</span><span class="ot">349.39K</span></div>
<div class="dbar" style="left:1225.4px;top:407.8px;width:34.9px;height:23.1px;background:#fdecee"></div>
<div class="obr" style="top:407.8px"><span class="op r">0.028429</span><span class="oq">290.84K</span><span class="ot">290.84K</span></div>
<div class="dbar" style="left:1250.8px;top:464.6px;width:9.5px;height:23.1px;background:#e9f7f1"></div>
<div class="obr" style="top:464.6px"><span class="op g">0.028289</span><span class="oq">75.80K</span><span class="ot">75.80K</span></div>
<div class="dbar" style="left:1235.4px;top:487.4px;width:24.9px;height:23.1px;background:#e9f7f1"></div>
<div class="obr" style="top:487.4px"><span class="op g">0.028287</span><span class="oq">123.63K</span><span class="ot">199.44K</span></div>
<div class="dbar" style="left:1226.6px;top:510.2px;width:33.7px;height:23.1px;background:#e9f7f1"></div>
<div class="obr" style="top:510.2px"><span class="op g">0.028214</span><span class="oq">71.20K</span><span class="ot">270.64K</span></div>
<div class="dbar" style="left:1224.0px;top:533.0px;width:36.3px;height:23.1px;background:#e9f7f1"></div>
<div class="obr" style="top:533.0px"><span class="op g">0.028156</span><span class="oq">20.07K</span><span class="ot">290.71K</span></div>
<div class="dbar" style="left:1217.8px;top:555.8px;width:42.5px;height:23.1px;background:#e9f7f1"></div>
<div class="obr" style="top:555.8px"><span class="op g">0.028154</span><span class="oq">49.72K</span><span class="ot">340.44K</span></div>
<div class="dbar" style="left:1202.6px;top:578.5px;width:57.7px;height:23.1px;background:#e9f7f1"></div>
<div class="obr" style="top:578.5px"><span class="op g">0.028141</span><span class="oq">122.10K</span><span class="ot">462.54K</span></div>
<div class="dbar" style="left:1193.7px;top:601.3px;width:66.6px;height:23.1px;background:#e9f7f1"></div>
<div class="obr" style="top:601.3px"><span class="op g">0.028075</span><span class="oq">71.66K</span><span class="ot">534.21K</span></div>
<div class="dbar" style="left:1184.5px;top:624.1px;width:75.8px;height:23.1px;background:#e9f7f1"></div>
<div class="obr" style="top:624.1px"><span class="op g">0.028069</span><span class="oq">73.68K</span><span class="ot">607.90K</span></div>
<div class="dbar" style="left:1175.8px;top:646.9px;width:84.5px;height:23.1px;background:#e9f7f1"></div>
<div class="obr" style="top:646.9px"><span class="op g">0.028000</span><span class="oq">69.96K</span><span class="ot">677.86K</span></div>
<div class="dbar" style="left:1170.3px;top:669.7px;width:90.0px;height:23.1px;background:#e9f7f1"></div>
<div class="obr" style="top:669.7px"><span class="op g">0.027996</span><span class="oq">43.61K</span><span class="ot">721.48K</span></div>

</div></body></html>
